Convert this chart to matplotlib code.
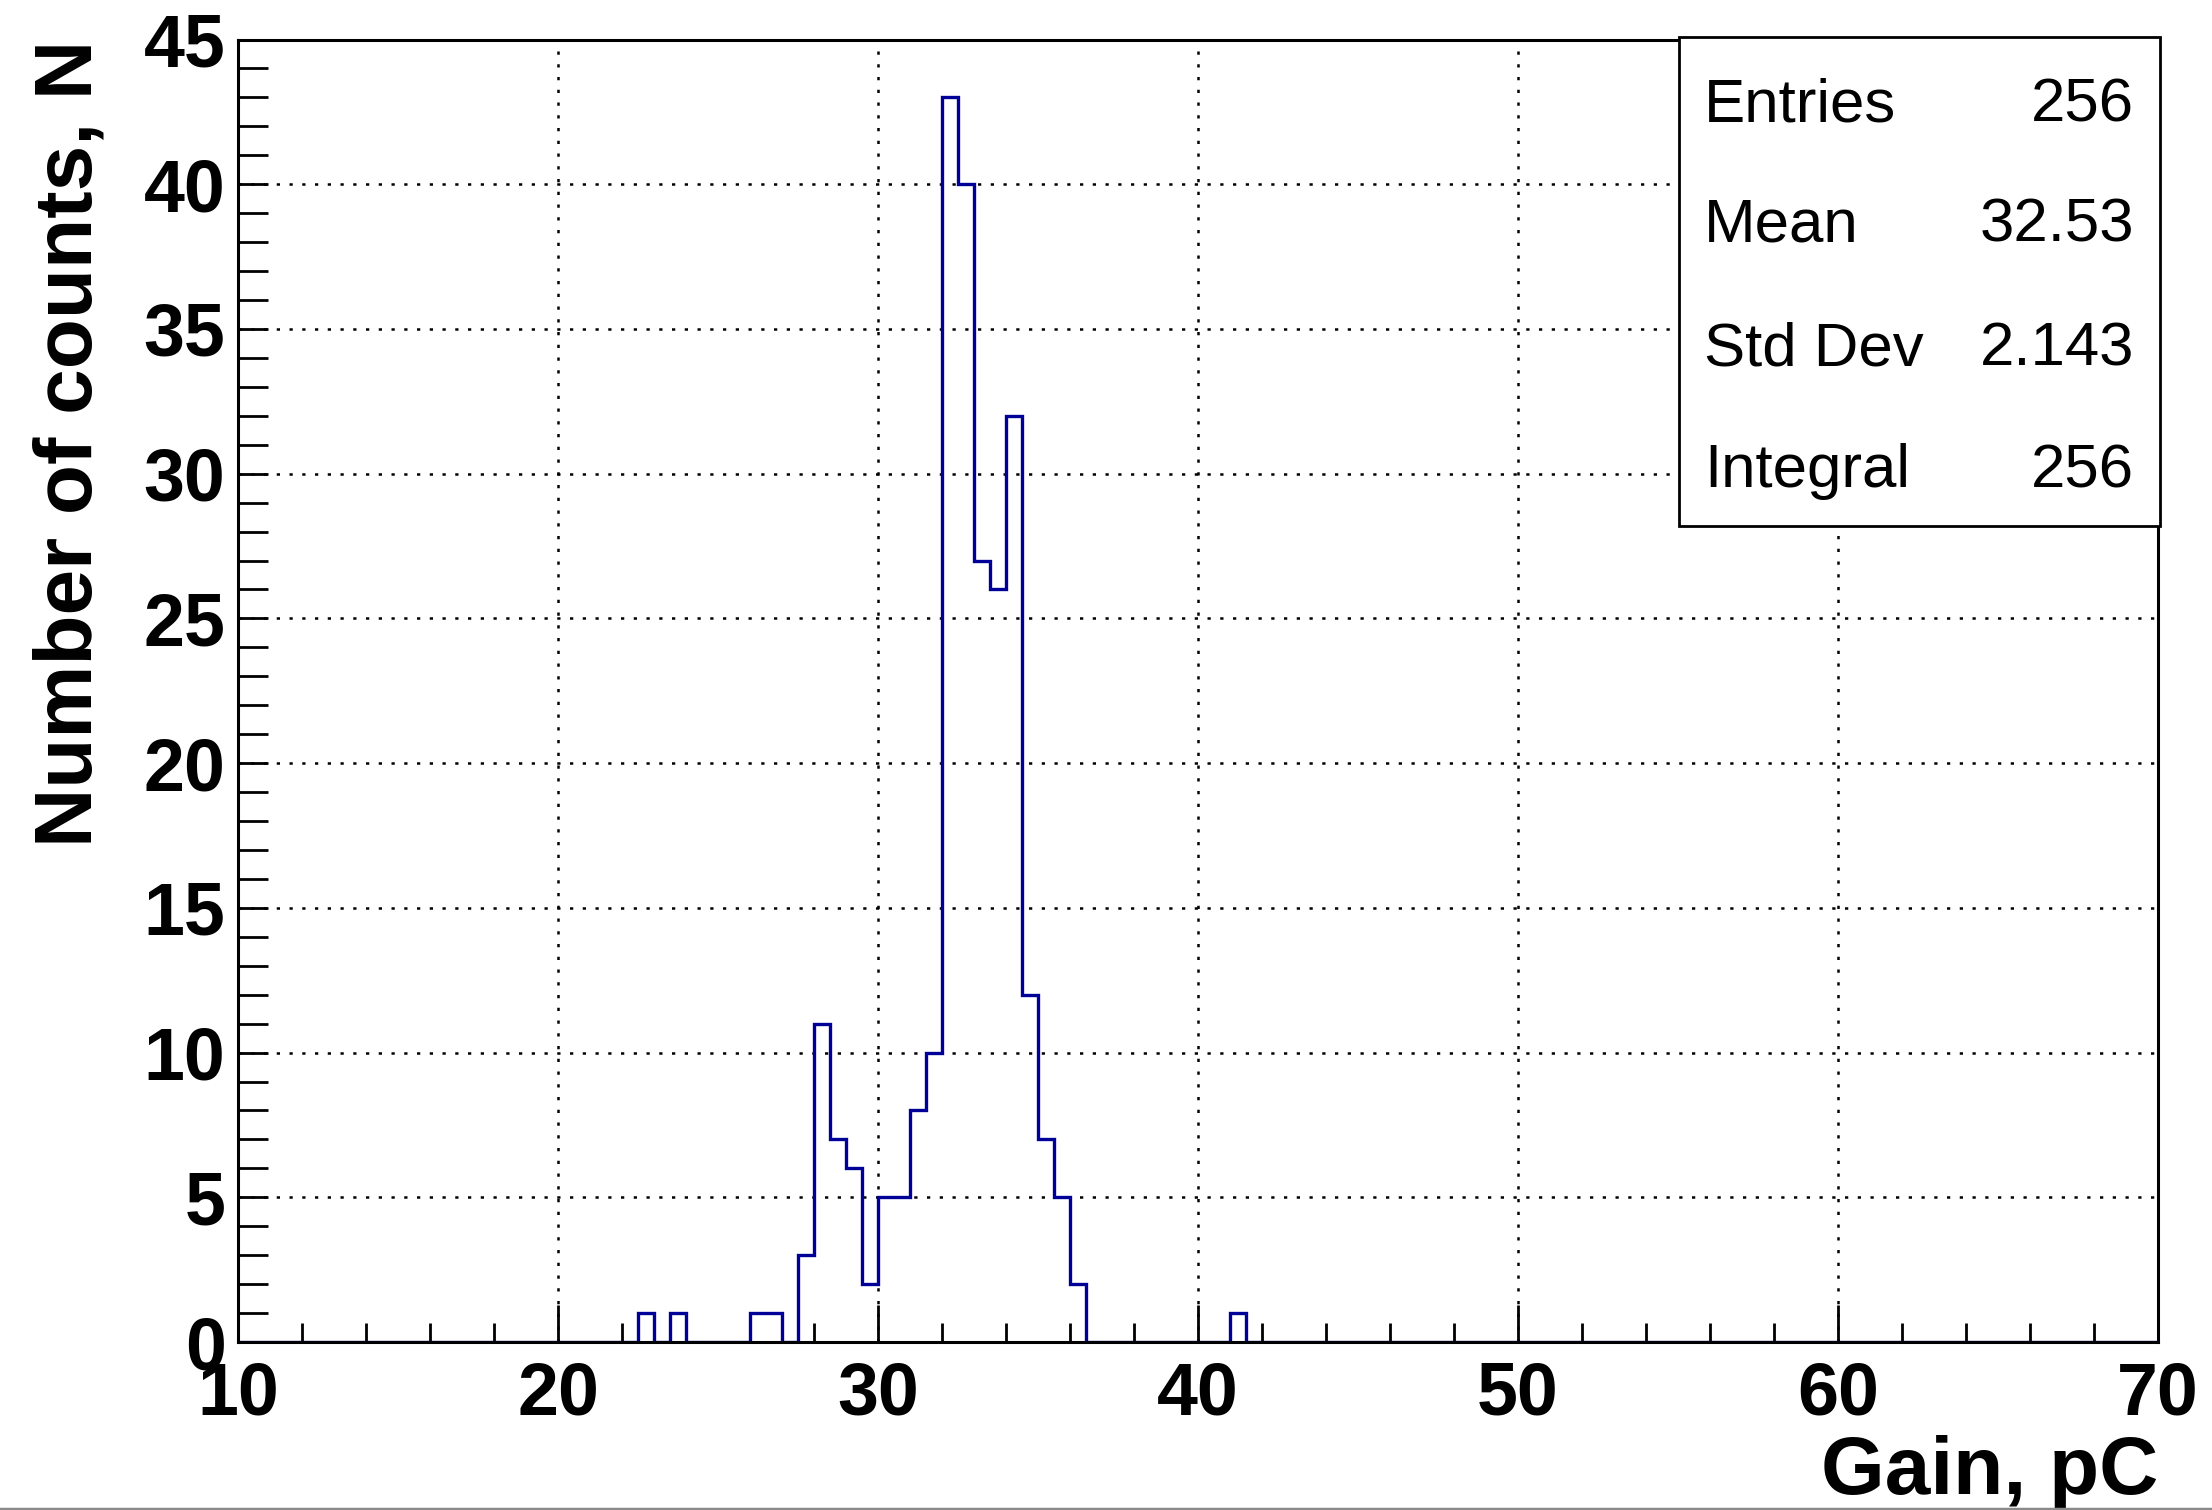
import numpy as np
import matplotlib
matplotlib.use("Agg")
import matplotlib.pyplot as plt
from matplotlib.patches import Rectangle
from matplotlib.lines import Line2D
from matplotlib.ticker import MultipleLocator

# Histogram binning: 120 bins of 0.5 pC between 10 and 70 pC
x_min, x_max, bin_width = 10.0, 70.0, 0.5

# Lower edges of the non-empty bins and their counts
bin_low = [22.5, 23.5, 26.0, 26.5, 27.5, 28.0, 28.5, 29.0, 29.5, 30.0, 30.5,
           31.0, 31.5, 32.0, 32.5, 33.0, 33.5, 34.0, 34.5, 35.0, 35.5, 36.0, 41.0]
bin_counts = [1, 1, 1, 1, 3, 11, 7, 6, 2, 5, 5,
              8, 10, 43, 40, 27, 26, 32, 12, 7, 5, 2, 1]

# Statistics panel
stat_labels = ["Entries", "Mean", "Std Dev", "Integral"]
stat_values = ["256", "32.53", "2.143", "256"]

x_label = "Gain, pC"
y_label = "Number of counts, N"

# Build full bin arrays
edges = np.arange(x_min, x_max + bin_width / 2, bin_width)
counts = np.zeros(len(edges) - 1)
for lo, c in zip(bin_low, bin_counts):
    counts[int(round((lo - x_min) / bin_width))] = c

W, H = 2212, 1510
fig = plt.figure(figsize=(W / 100, H / 100), dpi=100)
ax_l, ax_r, ax_t, ax_b = 238, 2158, 39.5, 1342
ax = fig.add_axes([ax_l / W, 1 - ax_b / H, (ax_r - ax_l) / W, (ax_b - ax_t) / H])

ax.stairs(counts, edges, color="#000099", linewidth=2.4, zorder=2)

ax.set_xlim(x_min, x_max)
ax.set_ylim(0, 45)

ax.xaxis.set_major_locator(MultipleLocator(10))
ax.xaxis.set_minor_locator(MultipleLocator(2))
ax.yaxis.set_major_locator(MultipleLocator(5))
ax.yaxis.set_minor_locator(MultipleLocator(1))

bold = dict(family="Liberation Sans", weight="bold")
ax.tick_params(axis="x", which="major", direction="in", length=26.6, width=2.0,
               pad=13, labelsize=53)
ax.tick_params(axis="x", which="minor", direction="in", length=13.7, width=2.0)
ax.tick_params(axis="y", which="both", direction="in", length=21.6, width=2.0,
               pad=9, labelsize=53)
for lab in ax.get_xticklabels() + ax.get_yticklabels():
    lab.set_fontfamily("Liberation Sans")
    lab.set_fontweight("bold")

for sp in ax.spines.values():
    sp.set_linewidth(2.2)
    sp.set_zorder(3)

ax.grid(True, which="major", color="black", linewidth=1.8,
        linestyle=(0, (1.3, 3.8)))

# Axis titles, aligned to the axis ends
ax.text(1.0, (H - 1494 - (H - ax_b)) / (ax_b - ax_t), x_label,
        transform=ax.transAxes, ha="right", va="baseline", fontsize=59, **bold)
ax.text((92 - ax_l) / (ax_r - ax_l), 1.0, y_label, transform=ax.transAxes,
        rotation=90, rotation_mode="anchor", ha="right", va="baseline",
        fontsize=59, **bold)

# Statistics box
def ax_x(px):
    return (px - ax_l) / (ax_r - ax_l)

def ax_y(py):
    return (ax_b - py) / (ax_b - ax_t)

box_l, box_r, box_t, box_b = 1679, 2160, 36.7, 526
ax.add_patch(Rectangle((ax_x(box_l), ax_y(box_b)),
                       ax_x(box_r) - ax_x(box_l), ax_y(box_t) - ax_y(box_b),
                       transform=ax.transAxes, facecolor="white",
                       edgecolor="black", linewidth=2.0, zorder=5,
                       clip_on=False))
row_baselines = [122, 242, 365, 487]
for lab, val, yb in zip(stat_labels, stat_values, row_baselines):
    ax.text(ax_x(1704), ax_y(yb), lab, transform=ax.transAxes, ha="left",
            va="baseline", fontsize=44.5, family="Liberation Sans", zorder=6)
    ax.text(ax_x(2134), ax_y(yb), val, transform=ax.transAxes, ha="right",
            va="baseline", fontsize=44.5, family="Liberation Sans", zorder=6)

# Thin grey frame edge along the bottom of the canvas
fig.add_artist(Line2D([0, 1], [1.5 / H, 1.5 / H], transform=fig.transFigure,
                      color="#8a8a8a", linewidth=2.5))

fig.savefig("out.png", dpi=100, facecolor="white")
